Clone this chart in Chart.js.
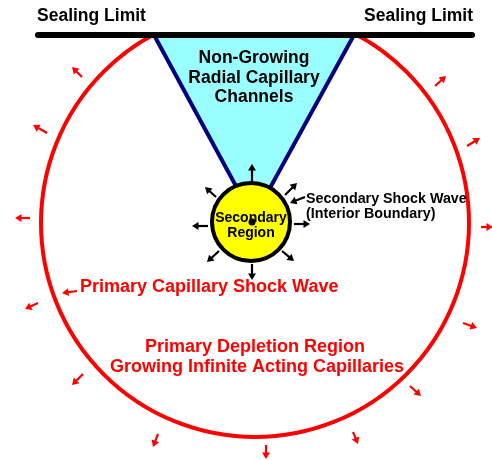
<!DOCTYPE html>
<html>
<head>
<meta charset="utf-8">
<script src="https://cdn.jsdelivr.net/npm/chart.js@4"></script>
<style>
html,body{margin:0;padding:0;background:#fff;}
canvas{display:block;}
</style>
</head>
<body>
<canvas id="c" width="492" height="460"></canvas>
<script>
// ---- data (diagram coordinates) ----
const sealingLine = [{x:38,y:35},{x:472,y:35}];
const conePoints = [{x:154,y:35},{x:237,y:188},{x:270,y:188},{x:354,y:35}];
const primaryCircle = [255, 223, 214];      // cx, cy, r
const secondaryCircle = [251, 222, 39];     // cx, cy, r
const centerDot = [252, 222];
const redArrows = [
  [82,77,72,67],[47,133,33,125],[30,218,15,218],[38,303,25,309],
  [83,374,72,385],[158,434,153,447],[266,445,266,459],[353,432,358,444],
  [410,386,421,396],[463,323,477,328],[481,227,493,227],[467,146,480,138],
  [435,86,446,76],[77,291,62,293]
];
const blackArrows = [
  [252,181,252,164],[294,224,310,224],[208,226,192,226],[252,264,252,280],
  [216,197,205,187],[285,195,297,183],[219,251,207,262],[282,251,294,261],
  [305,197,290,203]
];
const labels = [
  // text, x, y(baseline), align, color, size
  ["Sealing Limit", 37, 21, "left", "#000", 17.5],
  ["Sealing Limit", 473, 21, "right", "#000", 17.5],
  ["Non-Growing", 254, 63, "center", "#000", 17.5],
  ["Radial Capillary", 254, 83, "center", "#000", 17.5],
  ["Channels", 254, 102, "center", "#000", 17.5],
  ["Secondary", 251, 222, "center", "#000", 14],
  ["Region", 251, 237, "center", "#000", 14],
  ["Secondary Shock Wave", 306, 203, "left", "#000", 14.3],
  ["(Interior Boundary)", 306, 218, "left", "#000", 14.3],
  ["Primary Capillary Shock Wave", 80, 292, "left", "#ff0000", 18],
  ["Primary Depletion Region", 255, 352, "center", "#ff0000", 18],
  ["Growing Infinite Acting Capillaries", 257, 372, "center", "#ff0000", 18]
];

const FONT = "'Liberation Sans', Arial, sans-serif";

function arrow(ctx, xs, ys, a, color) {
  const x1 = xs.getPixelForValue(a[0]), y1 = ys.getPixelForValue(a[1]);
  const x2 = xs.getPixelForValue(a[2]), y2 = ys.getPixelForValue(a[3]);
  const ang = Math.atan2(y2 - y1, x2 - x1);
  const hl = 6.5, hw = 4;
  ctx.strokeStyle = color; ctx.fillStyle = color; ctx.lineWidth = 2.2;
  ctx.beginPath();
  ctx.moveTo(x1, y1);
  ctx.lineTo(x2 - Math.cos(ang) * hl * 0.8, y2 - Math.sin(ang) * hl * 0.8);
  ctx.stroke();
  ctx.beginPath();
  ctx.moveTo(x2, y2);
  ctx.lineTo(x2 - Math.cos(ang) * hl - Math.sin(ang) * hw, y2 - Math.sin(ang) * hl + Math.cos(ang) * hw);
  ctx.lineTo(x2 - Math.cos(ang) * hl + Math.sin(ang) * hw, y2 - Math.sin(ang) * hl - Math.cos(ang) * hw);
  ctx.closePath();
  ctx.fill();
}

const diagramPlugin = {
  id: 'diagram',
  beforeDatasetsDraw(chart) {
    const ctx = chart.ctx, xs = chart.scales.x, ys = chart.scales.y;
    const cx = xs.getPixelForValue(primaryCircle[0]);
    const cy = ys.getPixelForValue(primaryCircle[1]);
    const r = xs.getPixelForValue(primaryCircle[0] + primaryCircle[2]) - cx;
    const topY = ys.getPixelForValue(sealingLine[0].y);
    ctx.save();
    ctx.beginPath();
    ctx.rect(0, topY, chart.width, chart.height - topY);
    ctx.clip();
    ctx.beginPath();
    ctx.arc(cx, cy, r, 0, Math.PI * 2);
    ctx.strokeStyle = '#ff0000';
    ctx.lineWidth = 4;
    ctx.stroke();
    ctx.restore();
  },
  afterDatasetsDraw(chart) {
    const ctx = chart.ctx, xs = chart.scales.x, ys = chart.scales.y;
    ctx.save();
    // secondary region
    const sx = xs.getPixelForValue(secondaryCircle[0]);
    const sy = ys.getPixelForValue(secondaryCircle[1]);
    const sr = xs.getPixelForValue(secondaryCircle[0] + secondaryCircle[2]) - sx;
    ctx.beginPath();
    ctx.arc(sx, sy, sr, 0, Math.PI * 2);
    ctx.fillStyle = '#ffff00';
    ctx.fill();
    ctx.lineWidth = 4;
    ctx.strokeStyle = '#000';
    ctx.stroke();
    // arrows
    redArrows.forEach(a => arrow(ctx, xs, ys, a, '#ff0000'));
    blackArrows.forEach(a => arrow(ctx, xs, ys, a, '#000'));
    // labels
    ctx.textBaseline = 'alphabetic';
    labels.forEach(l => {
      ctx.font = 'bold ' + l[5] + 'px ' + FONT;
      ctx.fillStyle = l[4];
      ctx.textAlign = l[3];
      ctx.fillText(l[0], xs.getPixelForValue(l[1]), ys.getPixelForValue(l[2]));
    });
    // center dot (drawn over text like the reference)
    ctx.beginPath();
    ctx.arc(xs.getPixelForValue(centerDot[0]), ys.getPixelForValue(centerDot[1]), 3.5, 0, Math.PI * 2);
    ctx.fillStyle = '#000';
    ctx.fill();
    ctx.restore();
  }
};

new Chart(document.getElementById('c'), {
  type: 'scatter',
  data: {
    datasets: [
      {
        type: 'line', data: sealingLine, borderColor: '#000', borderWidth: 6,
        borderCapStyle: 'round', pointRadius: 0, fill: false, order: 1, clip: false
      },
      {
        type: 'line', data: conePoints, borderColor: '#000080', borderWidth: 4,
        backgroundColor: '#99ffff', fill: {value: 35}, pointRadius: 0, order: 2,
        tension: 0, clip: false
      }
    ]
  },
  options: {
    responsive: false,
    animation: false,
    devicePixelRatio: 1,
    layout: {padding: 0},
    plugins: {legend: {display: false}, tooltip: {enabled: false}},
    scales: {
      x: {type: 'linear', min: 0, max: 492, display: false},
      y: {type: 'linear', min: 0, max: 460, reverse: true, display: false}
    }
  },
  plugins: [diagramPlugin]
});
</script>
</body>
</html>
